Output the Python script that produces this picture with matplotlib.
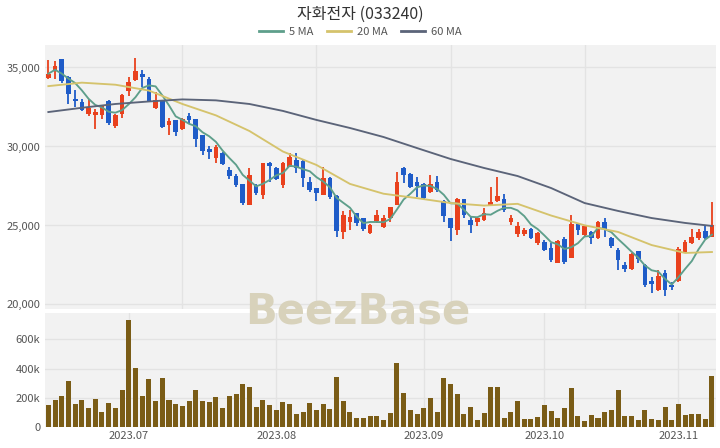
import numpy as np
import pandas as pd
import matplotlib
matplotlib.use("Agg")
import matplotlib.pyplot as plt
from matplotlib.lines import Line2D

plt.rcParams['font.family'] = ['Noto Sans CJK KR', 'DejaVu Sans']

title = "자화전자 (033240)"

opens = [34336, 34760, 35520, 34400, 33000, 32820, 32080, 31970, 32010, 32860,
         31300, 32080, 33490, 34190, 34610, 34250, 32440, 32860, 31380, 31660,
         31090, 31930, 31720, 30710, 29820, 29250, 29610, 28510, 28130, 27630,
         26300, 27560, 26930, 28970, 28620, 27560, 28720, 29150, 29100, 27770,
         27350, 26930, 27990, 26870, 24610, 25240, 25770, 25450, 24510, 25280,
         24920, 25450, 26300, 28620, 28260, 27770, 27630, 27140, 27770, 26570,
         25450, 24710, 26660, 25350, 25240, 25350, 26300, 26570, 26660, 25240,
         24460, 24460, 24760, 23870, 23970, 23560, 22640, 24130, 22920, 25100,
         24400, 24610, 24190, 25240, 24190, 23450, 22500, 22230, 23360, 22500,
         21510, 20910, 21970, 21230, 21510, 23340, 23910, 24190, 24670, 24290]
highs = [35457, 35390, 35550, 34450, 33560, 33030, 32990, 32350, 32650, 32920,
         32050, 33340, 34400, 35600, 34820, 34400, 33450, 32900, 31800, 31700,
         31800, 32140, 31750, 30750, 30030, 30090, 29650, 28720, 28260, 27650,
         28620, 27600, 28940, 28990, 28700, 29040, 29570, 29570, 29150, 28050,
         27400, 28680, 28050, 26900, 25940, 25980, 25800, 25500, 25100, 25950,
         25660, 26200, 28400, 28720, 28300, 28050, 27700, 28200, 28130, 26600,
         25480, 26720, 26700, 25560, 25560, 26100, 27460, 28090, 26990, 25660,
         25200, 24820, 24820, 24600, 24050, 23870, 24080, 24290, 25660, 25140,
         25050, 24670, 25300, 25450, 24290, 23560, 22710, 23250, 23400, 22560,
         21720, 22180, 22180, 21440, 23660, 24080, 24760, 24760, 24950, 26510]
lows = [34292, 34290, 34050, 32710, 32500, 32230, 31930, 31130, 31760, 31380,
        31200, 31800, 33180, 34130, 33770, 32820, 32390, 31170, 30750, 30660,
        31050, 31440, 29970, 29440, 29190, 28970, 28800, 27920, 27460, 26300,
        26300, 26900, 26660, 27770, 27850, 27350, 28680, 28340, 27420, 27140,
        26570, 26930, 26700, 24290, 24130, 24710, 24950, 24650, 24450, 25150,
        24820, 25200, 26300, 27670, 27400, 26820, 26600, 27080, 27100, 25240,
        24040, 24400, 25500, 24510, 24950, 25300, 26230, 26510, 25870, 25030,
        24300, 24350, 24150, 23750, 23400, 22710, 22600, 22560, 22920, 24400,
        24350, 23830, 24150, 24290, 23560, 22180, 22070, 22180, 22650, 21100,
        20750, 20880, 20540, 20910, 21440, 23240, 23830, 24100, 24130, 24290]
closes = [34608, 35100, 34130, 33340, 32900, 32290, 32440, 32180, 32560, 31510,
          32010, 33240, 34080, 34760, 34400, 32860, 32920, 31230, 31600, 30920,
          31760, 31660, 30460, 29700, 29650, 29990, 28890, 28130, 27560, 26440,
          28200, 27040, 28940, 28770, 27920, 28940, 29350, 28620, 27990, 27250,
          27080, 27990, 26780, 24670, 25660, 25520, 25140, 24760, 25030, 25650,
          25450, 26150, 27770, 28200, 27460, 27500, 26720, 27630, 27250, 25600,
          24810, 26660, 25660, 25030, 25450, 25770, 26510, 26870, 25980, 25450,
          24970, 24710, 24190, 24540, 23450, 22820, 24040, 22710, 25100, 24710,
          24970, 24190, 25240, 24760, 23700, 22820, 22230, 23200, 22860, 21230,
          21300, 21800, 20910, 21090, 23490, 23970, 24290, 24610, 24190, 25030]
volumes = [148, 182, 210, 314, 155, 182, 132, 194, 102, 164,
           132, 250, 733, 405, 210, 330, 175, 337, 187, 160,
           146, 177, 250, 175, 171, 205, 132, 210, 223, 291,
           273, 135, 182, 148, 119, 171, 155, 87, 102, 164,
           119, 160, 125, 341, 177, 100, 64, 64, 73, 73,
           50, 98, 437, 235, 114, 91, 132, 198, 100, 334,
           291, 228, 91, 136, 50, 96, 273, 273, 64, 102,
           177, 57, 57, 68, 153, 110, 61, 132, 266, 73,
           41, 80, 64, 102, 119, 255, 77, 77, 46, 114,
           57, 50, 136, 46, 160, 80, 91, 87, 57, 346]
volumes = [v * 1000 for v in volumes]

# moving averages (every 5th session, last at 99)
ma_idx = [0, 5, 10, 15, 20, 25, 30, 35, 40, 45, 50, 55, 60, 65, 70, 75, 80, 85, 90, 95, 99]
ma20 = [33820, 34040, 33910, 33540, 32690, 31970, 30980, 29680, 28830, 27630, 27010,
        26730, 26420, 26260, 26370, 25630, 25010, 24590, 23760, 23260, 23320]
ma60 = [32180, 32450, 32690, 32850, 32980, 32920, 32690, 32250, 31680, 31170, 30600,
        29900, 29210, 28640, 28130, 27370, 26420, 25920, 25470, 25160, 24970]

month_pos = [12, 34, 56, 74, 94]
month_labels = ["2023.07", "2023.08", "2023.09", "2023.10", "2023.11"]
price_ticks = [20000, 25000, 30000, 35000]
vol_ticks = [0, 200000, 400000, 600000]
vol_labels = ["0", "200k", "400k", "600k"]

RED = '#e9411d'
BLUE = '#1f5cc8'
VOLC = '#7a5c16'
C5 = '#5e9f8b'
C20 = '#d5c36c'
C60 = '#5b6479'
BG = '#f2f2f2'
GRID = '#e3e3e3'
TXT = '#555555'

fig = plt.figure(figsize=(7.2, 4.48), dpi=100)
ax = fig.add_axes([0.0625, 0.3103, 0.9319, 0.5893])
axv = fig.add_axes([0.0625, 0.0469, 0.9319, 0.2545])

n = len(closes)
x = np.arange(n)
o = np.array(opens); h = np.array(highs); l = np.array(lows); c = np.array(closes)
up = c >= o
cols = np.where(up, RED, BLUE)

for a in (ax, axv):
    a.set_facecolor(BG)
    for s in a.spines.values():
        s.set_visible(False)
    a.tick_params(length=0, labelsize=8, colors=TXT)
    a.set_xlim(-0.5, n - 0.4)
    a.set_axisbelow(True)

# price panel
ax.set_ylim(19714, 36425)
ax.set_yticks(price_ticks)
ax.set_yticklabels([f"{t:,}" for t in price_ticks])
ax.set_xticks([20, 40, 60, 80])
ax.set_xticklabels([])
ax.grid(True, color=GRID, linewidth=1)

ax.vlines(x, l, h, colors=cols, linewidth=1.3, zorder=3)
body_low = np.minimum(o, c)
body_h = np.maximum(np.abs(c - o), 60)
ax.bar(x, body_h, bottom=body_low, width=0.7, color=cols, zorder=4)

ma5 = pd.Series(closes).rolling(5, min_periods=1).mean()
ax.plot(x, ma5, color=C5, linewidth=1.35, zorder=5)
ax.plot(ma_idx, ma20, color=C20, linewidth=1.35, zorder=5)
ax.plot(ma_idx, ma60, color=C60, linewidth=1.35, zorder=5)

# volume panel
axv.bar(x, volumes, width=0.75, color=VOLC, zorder=3)
axv.set_ylim(0, 780000)
axv.set_yticks(vol_ticks)
axv.set_yticklabels(vol_labels)
axv.set_xticks(month_pos)
axv.set_xticklabels(month_labels)
axv.grid(True, color=GRID, linewidth=1)
axv.tick_params(axis='x', pad=3)

# title and legend
fig.text(0.5, 0.968, title, ha='center', va='center', fontsize=11.5, color='#333333')
handles = [Line2D([0], [0], color=C5, lw=2), Line2D([0], [0], color=C20, lw=2),
           Line2D([0], [0], color=C60, lw=2)]
fig.legend(handles, ["5 MA", "20 MA", "60 MA"], loc='center', bbox_to_anchor=(0.5, 0.928),
           ncol=3, frameon=False, fontsize=8, handlelength=2.2, columnspacing=1.2,
           handletextpad=0.5, labelcolor=TXT)

# watermark
fig.text(0.497, 0.305, "BeezBase", ha='center', va='center', fontsize=30,
         fontweight='bold', color='#d8d2bb', zorder=0, family=['DejaVu Sans'])

fig.savefig("out.png", dpi=100)
